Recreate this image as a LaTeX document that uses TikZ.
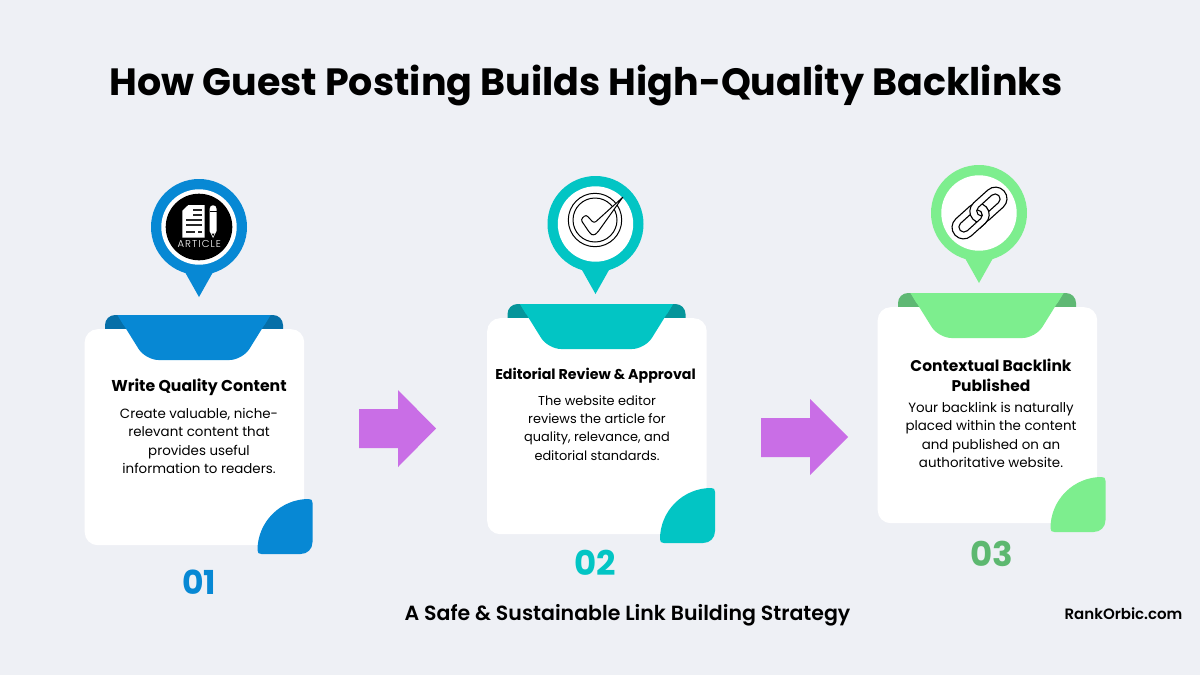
\documentclass[tikz,border=0pt]{standalone}
\usepackage{fontspec}
\setmainfont{Poppins}
\newfontfamily\semifont{Poppins SemiBold}
\newfontfamily\lightfont[LetterSpace=11]{Poppins Light}
\definecolor{bgc}{HTML}{EEF0F5}
\definecolor{blueA}{HTML}{0788D4}
\definecolor{blueB}{HTML}{066FA8}
\definecolor{tealA}{HTML}{02C5C4}
\definecolor{tealB}{HTML}{05959A}
\definecolor{greenA}{HTML}{7DEE8E}
\definecolor{greenB}{HTML}{5FB874}
\definecolor{greenN}{HTML}{5DB870}
\definecolor{arrowc}{HTML}{C96EE6}
\tikzset{
  x=1pt,y=-1pt,
  headtxt/.style={font=\bfseries\fontsize{#1}{20}\selectfont,align=center,text=black,inner sep=0pt},
  bodytxt/.style={font=\fontsize{#1}{18.2}\selectfont,align=center,text=black,inner sep=0pt},
  numtxt/.style={font=\bfseries\fontsize{#1}{34}\selectfont,inner sep=0pt},
  flow/.style={fill=arrowc},
  ringline/.style={fill=white,draw=black,line width=1.1pt,even odd rule},
}
% card: #1 card x, #2 card y, #3 colour, #4 dark colour, #5 name
\newcommand{\cardshape}[5]{%
  \begin{scope}[shift={(#1,#2)}]
    \fill[#4,rounded corners=10pt] (20.5,14) -- (20.5,-14) -- (198.5,-14) -- (198.5,14);
    \node[fill=white,rounded corners=13pt,minimum width=219.5pt,minimum height=216pt,inner sep=0pt,anchor=north west] (#5) at (0,0) {};
    \fill[#3,rounded corners=13pt] (33,-14) -- (61,31) -- (158,31) -- (186,-14);
    \fill[#3] (33,-14) -- (186,-14) -- (180,-4) -- (39,-4) -- cycle;
    \fill[#3] (224,170) .. controls (196,170) and (173,193) .. (173,221)
      .. controls (173,224) and (174,225) .. (177,225) -- (216,225)
      .. controls (223,225) and (228,220) .. (228,213) -- (228,174)
      .. controls (228,171) and (227,170) .. (224,170) -- cycle;
  \end{scope}}
\newcommand{\pinshape}[3]{%
  \begin{scope}[shift={(#1,#2)}]
    \fill[#3] (0,0) circle (48);
    \fill[#3] (-13.5,46) -- (0,70) -- (13.5,46) -- cycle;
    \fill[white] (0,0) circle (37.7);
  \end{scope}}
\newcommand{\ringpath}{[rounded corners=11.4pt] (-21,-11.5) rectangle (21,11.5) [rounded corners=4.9pt] (-14,-5) rectangle (14,5)}
\begin{document}
\begin{tikzpicture}
\useasboundingbox (0,0) rectangle (1200,675);
\fill[bgc] (0,0) rectangle (1200,675);

\node[font=\bfseries\fontsize{38}{40}\selectfont,inner sep=0pt] (title) at (586,85.5) {How Guest Posting Builds High-Quality Backlinks};

\cardshape{84.5}{329}{blueA}{blueB}{cardA}
\cardshape{487}{318}{tealA}{tealB}{cardB}
\cardshape{877.5}{307}{greenA}{greenB}{cardC}

\pinshape{199}{227}{blueA}
\pinshape{595.5}{224}{tealA}
\pinshape{979}{213}{greenA}

% article icon
\fill[black] (199,227) circle (33.3);
\fill[white] (188.3,205) -- (204.6,205) -- (204.6,237.5) -- (182.3,237.5) -- (182.3,210.7) -- cycle;
\foreach \ya/\xa/\xb in {210/193/202,215/193/202,220/186/202,225/186/202,231.7/186/195,231.7/198/202}
  \fill[black!85] (\xa,\ya-0.8) rectangle (\xb,\ya+0.8);
\fill[white] (209.6,209) .. controls (209.6,204) and (216.6,204) .. (216.6,209) -- (216.6,231) -- (213.1,238) -- (209.6,231) -- cycle;
\fill[black] (209.6,211) rectangle (216.6,212);
\fill[black] (211.6,233.5) -- (214.6,233.5) -- (213.1,236.3) -- cycle;
\node[inner sep=0pt,text=white,font=\lightfont\fontsize{10}{11}\selectfont] (artlabel) at (199.3,244) {ARTICLE};

% check icon
\draw[black,line width=1pt] (595,220) circle (26.7);
\draw[black,line width=1pt] (595,220) circle (22);
\filldraw[fill=white,draw=black,line width=1pt,line join=round,rounded corners=2.5pt] (580.7,219.6) -- (586,214.6) -- (594,223.3) [sharp corners] -- (622.7,197.3) [rounded corners=2.5pt] -- (597.3,232.8) -- (593.3,235.7) -- (590,233.3) -- cycle;

% chain icon: two interlocked links
\begin{scope}[shift={(970.6,221)},rotate=42]
  \path[ringline] \ringpath;
\end{scope}
\begin{scope}[shift={(988.4,205)},rotate=42]
  \path[ringline] \ringpath;
\end{scope}
\begin{scope}[shift={(970.6,221)},rotate=42]
  \clip (2,0) rectangle (30,16);
  \path[ringline] \ringpath;
\end{scope}

% flow arrows
\fill[flow] (359,409) -- (398,409) -- (398,390) -- (436,428.5) -- (398,467) -- (398,448) -- (359,448) -- cycle;
\fill[flow] (761,418) -- (810,418) -- (810,399) -- (848,437) -- (810,475) -- (810,457) -- (761,457) -- cycle;

% card texts
\node[headtxt=15.7] (headA) at (199,387) {Write Quality Content};
\node[bodytxt=13.4] (bodyA) at (199,441) {Create valuable, niche-\\relevant content that\\provides useful\\information to readers.};
\node[headtxt=14.2] (headB) at (595.5,376) {Editorial Review \& Approval};
\node[bodytxt=12.9] (bodyB) at (597,428) {The website editor\\reviews the article for\\quality, relevance, and\\editorial standards.};
\node[headtxt=15.5] (headC) at (991,375) {Contextual Backlink\\Published};
\node[bodytxt=13.4] (bodyC) at (991,435) {Your backlink is naturally\\placed within the content\\and published on an\\authoritative website.};

% numbers
\node[numtxt=33,text=blueA] (numA) at (199,582) {01};
\node[numtxt=34,text=tealA] (numB) at (595,563) {02};
\node[numtxt=34,text=greenN] (numC) at (991.5,554) {03};

\node[inner sep=0pt,font=\semifont\fontsize{20.5}{24}\selectfont] (tagline) at (627.5,615.5) {A Safe \& Sustainable Link Building Strategy};
\node[inner sep=0pt,font=\semifont\fontsize{15}{18}\selectfont] (brand) at (1123.5,614) {RankOrbic.com};
\end{tikzpicture}
\end{document}
